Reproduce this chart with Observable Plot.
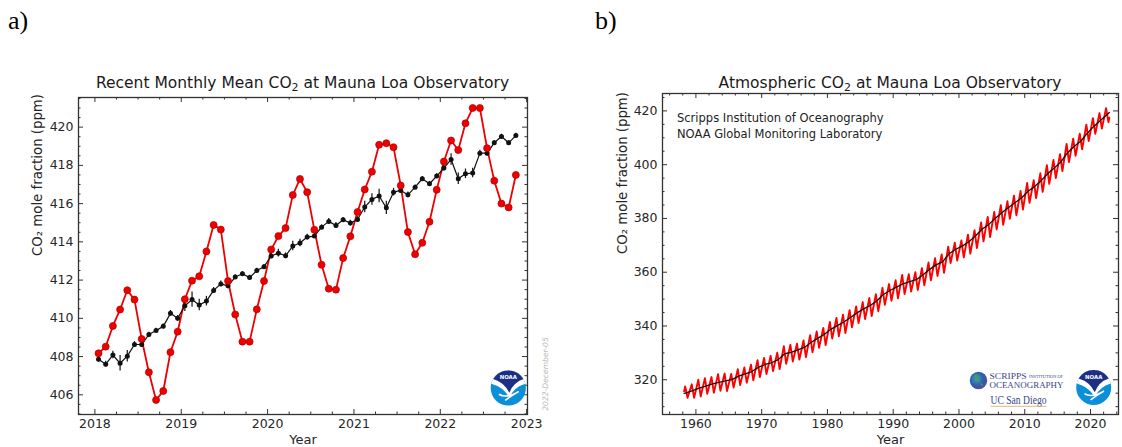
<!DOCTYPE html>
<html>
<head>
<meta charset="utf-8">
<script src="https://cdn.jsdelivr.net/npm/d3@7"></script>
<script src="https://cdn.jsdelivr.net/npm/@observablehq/plot@0.6"></script>
<style>
  html, body { margin: 0; padding: 0; background: #fff; }
  #page { position: relative; width: 1122px; height: 447px; overflow: hidden; background: #fff; }
  #chartA { position: absolute; left: 0; top: 0; }
  #chartB { position: absolute; left: 560px; top: 0; }
  #overlay { position: absolute; left: 0; top: 0; pointer-events: none; }
</style>
</head>
<body>
<div id="page">
  <div id="chartA"></div>
  <div id="chartB"></div>
  <svg id="overlay" width="1122" height="447" xmlns="http://www.w3.org/2000/svg"></svg>
</div>
<script>
// ---------------- Data: panel a) monthly, Jan 2018 – Nov 2022 ----------------
const monthlyStartYear = 2018;
const monthlyMean = [
  408.17, 408.52, 409.60, 410.46, 411.47, 410.98, 408.92, 407.18, 405.73, 406.20, 408.23, 409.30,
  411.00, 411.97, 412.20, 413.50, 414.88, 414.64, 411.95, 410.20, 408.78, 408.78, 410.47, 411.95,
  413.60, 414.30, 414.72, 416.45, 417.29, 416.60, 414.63, 412.80, 411.55, 411.50, 413.15, 414.29,
  415.56, 416.74, 417.67, 419.08, 419.16, 418.95, 416.95, 414.51, 413.35, 413.95, 415.05, 416.72,
  418.20, 419.30, 418.80, 420.20, 421.00, 421.00, 418.90, 417.20, 416.00, 415.80, 417.50
];
const deseasonalized = [
  407.86, 407.60, 408.08, 407.65, 408.02, 408.63, 408.63, 409.15, 409.36, 409.58, 410.26, 410.00,
  410.66, 410.98, 410.70, 410.90, 411.46, 411.80, 411.70, 412.16, 412.33, 412.13, 412.50, 412.70,
  413.26, 413.41, 413.27, 413.78, 413.94, 414.25, 414.30, 414.77, 415.07, 414.86, 415.16, 414.98,
  415.17, 415.82, 416.22, 416.40, 415.78, 416.60, 416.69, 416.46, 416.86, 417.30, 417.04, 417.44,
  417.86, 418.31, 417.30, 417.56, 417.60, 418.64, 418.64, 419.18, 419.51, 419.18, 419.56
];
const uncertainty = [
  0.15, 0.15, 0.20, 0.40, 0.30, 0.15, 0.15, 0.12, 0.12, 0.12, 0.15, 0.15,
  0.30, 0.40, 0.30, 0.25, 0.15, 0.15, 0.15, 0.12, 0.12, 0.12, 0.12, 0.12,
  0.15, 0.20, 0.15, 0.25, 0.20, 0.15, 0.12, 0.12, 0.15, 0.15, 0.12, 0.15,
  0.15, 0.30, 0.30, 0.35, 0.35, 0.20, 0.15, 0.15, 0.12, 0.12, 0.12, 0.12,
  0.15, 0.30, 0.30, 0.25, 0.25, 0.15, 0.15, 0.12, 0.12, 0.12, 0.12
];
const aXTicks = [2018, 2019, 2020, 2021, 2022, 2023];
const aYTicks = [406, 408, 410, 412, 414, 416, 418, 420];

// ---------------- Data: panel b) 1958 – 2022 ----------------
const firstYear = 1958;
const annualTrend = [
  315.10, 315.98, 316.91, 317.64, 318.45, 318.99, 319.62, 320.04, 321.37, 322.18,
  323.05, 324.62, 325.68, 326.32, 327.46, 329.68, 330.19, 331.12, 332.03, 333.84,
  335.41, 336.84, 338.76, 340.12, 341.48, 343.15, 344.87, 346.35, 347.61, 349.31,
  351.69, 353.20, 354.45, 355.70, 356.54, 357.21, 358.96, 360.97, 362.74, 363.88,
  366.84, 368.54, 369.71, 371.32, 373.45, 375.98, 377.70, 379.98, 382.09, 384.02,
  385.83, 387.64, 390.10, 391.85, 394.06, 396.74, 398.81, 401.01, 404.41, 406.76,
  408.72, 411.66, 414.24, 416.45, 418.56
];
const mayPeaks = [
  317.5, 318.3, 320.0, 320.6, 321.0, 322.1, 322.3, 322.2, 323.9, 324.6,
  325.6, 327.3, 328.1, 328.9, 330.1, 332.5, 333.0, 333.4, 334.6, 336.6,
  338.0, 339.3, 341.5, 343.0, 344.2, 345.9, 347.3, 348.9, 350.4, 351.8,
  354.2, 355.6, 357.0, 359.0, 359.3, 360.0, 361.5, 363.6, 365.2, 366.6,
  369.5, 371.0, 371.8, 374.0, 375.6, 378.5, 380.6, 382.4, 384.9, 386.4,
  388.5, 390.2, 393.2, 394.2, 396.8, 399.8, 401.8, 403.9, 407.7, 409.7,
  411.5, 414.9, 417.3, 419.2, 421.0
];
const autumnTroughs = [
  313.3, 313.3, 313.8, 314.8, 315.2, 315.9, 315.8, 317.1, 318.0, 318.9,
  319.8, 321.0, 322.1, 323.2, 324.0, 325.9, 326.8, 327.5, 328.4, 330.2,
  331.9, 332.9, 335.3, 336.2, 337.4, 339.5, 341.1, 342.6, 343.7, 345.5,
  347.9, 349.4, 350.3, 351.9, 352.8, 353.4, 355.1, 357.0, 358.6, 359.8,
  363.4, 364.3, 365.5, 366.9, 369.0, 371.5, 373.1, 375.9, 377.6, 379.9,
  381.2, 383.3, 385.8, 387.6, 389.9, 392.9, 395.0, 397.6, 401.0, 403.3,
  405.7, 408.8, 411.5, 413.4, 415.8
];
const seriesStart = { x: 1958.21, y: 315.7 };   // March 1958
const seriesEnd = { x: 2022.87, y: 417.5 };     // November 2022
const trendStart = { x: 1958.21, y: 314.9 };
const trendEnd = { x: 2022.87, y: 419.4 };
const bXTicks = [1960, 1970, 1980, 1990, 2000, 2010, 2020];
const bYTicks = [320, 340, 360, 380, 400, 420];

// ---------------- Build tables ----------------
const monthly = monthlyMean.map((v, i) => ({
  x: monthlyStartYear + (i + 0.5) / 12,
  mean: v,
  trend: deseasonalized[i],
  lo: deseasonalized[i] - uncertainty[i],
  hi: deseasonalized[i] + uncertainty[i]
}));

const seasonal = [seriesStart];
mayPeaks.forEach((p, i) => {
  seasonal.push({ x: firstYear + i + 0.37, y: p });
  seasonal.push({ x: firstYear + i + 0.73, y: autumnTroughs[i] });
});
seasonal.push(seriesEnd);
const trend = [trendStart, ...annualTrend.map((v, i) => ({ x: firstYear + i + 0.5, y: v })), trendEnd];

// ---------------- Helpers ----------------
const INK = "#333";
function innerTicks(xMajor, xMinor, yMajor, yMinor, W, H) {
  const maj = 5, mnr = 2.5;
  const o = { stroke: INK, strokeWidth: 1 };
  return [
    Plot.tickX(xMajor, { x: d => d, insetTop: H - maj, ...o }),
    Plot.tickX(xMajor, { x: d => d, insetBottom: H - maj, ...o }),
    Plot.tickX(xMinor, { x: d => d, insetTop: H - mnr, ...o }),
    Plot.tickX(xMinor, { x: d => d, insetBottom: H - mnr, ...o }),
    Plot.tickY(yMajor, { y: d => d, insetRight: W - maj, ...o }),
    Plot.tickY(yMajor, { y: d => d, insetLeft: W - maj, ...o }),
    Plot.tickY(yMinor, { y: d => d, insetRight: W - mnr, ...o }),
    Plot.tickY(yMinor, { y: d => d, insetLeft: W - mnr, ...o })
  ];
}
const baseStyle = { fontFamily: "DejaVu Sans, sans-serif", fontSize: "12.5px", color: "#262626", background: "transparent", overflow: "visible" };

// ---------------- Panel a ----------------
{
  const width = 560, height = 447, mL = 78, mR = 33, mT = 97, mB = 33;
  const W = width - mL - mR, H = height - mT - mB;
  const xDomain = [2017.81, 2023.01], yDomain = [404.97, 421.55];
  const xMinor = d3.range(2017.75, 2023.02, 0.25).filter(v => v >= xDomain[0] && v <= xDomain[1] && !aXTicks.includes(v));
  const yMinor = d3.range(405, 421.6, 0.5).filter(v => !aYTicks.includes(v));
  const chart = Plot.plot({
    width, height, marginLeft: mL, marginRight: mR, marginTop: mT, marginBottom: mB,
    style: baseStyle,
    x: { domain: xDomain },
    y: { domain: yDomain },
    marks: [
      Plot.line(monthly, { x: "x", y: "mean", stroke: "#ee0000", strokeWidth: 1.8 }),
      Plot.ruleX(monthly, { x: "x", y1: "lo", y2: "hi", stroke: "#111", strokeWidth: 1.2 }),
      Plot.line(monthly, { x: "x", y: "trend", stroke: "#111", strokeWidth: 1.2 }),
      Plot.dot(monthly, { x: "x", y: "trend", r: 2.5, fill: "#111", stroke: "none" }),
      Plot.dot(monthly, { x: "x", y: "mean", r: 3.5, fill: "#ee0000", stroke: "#b00000", strokeWidth: 0.7 }),
      ...innerTicks(aXTicks, xMinor, aYTicks, yMinor, W, H),
      Plot.frame({ stroke: INK, strokeWidth: 1.3 }),
      Plot.axisX(aXTicks, { anchor: "bottom", tickSize: 0, tickPadding: 5, tickFormat: d => String(d), label: null }),
      Plot.axisY(aYTicks, { anchor: "left", tickSize: 0, tickPadding: 5, tickFormat: d => String(d), label: null }),
      Plot.text(["Year"], { text: d => d, frameAnchor: "bottom", dy: 25, lineAnchor: "middle", fontSize: 13 }),
      Plot.text(["CO₂ mole fraction (ppm)"], { text: d => d, frameAnchor: "left", dx: -41, rotate: -90, lineAnchor: "middle", fontSize: 13.3 })
    ]
  });
  document.getElementById("chartA").appendChild(chart);
}

// ---------------- Panel b ----------------
{
  const width = 562, height = 447, mL = 102, mR = 4, mT = 93, mB = 33;
  const W = width - mL - mR, H = height - mT - mB;
  const xDomain = [1954.92, 2024.26], yDomain = [307.08, 426.48];
  const xMinor = d3.range(1956, 2025, 2).filter(v => !bXTicks.includes(v));
  const yMinor = d3.range(310, 426, 5).filter(v => !bYTicks.includes(v));
  const chart = Plot.plot({
    width, height, marginLeft: mL, marginRight: mR, marginTop: mT, marginBottom: mB,
    style: baseStyle,
    x: { domain: xDomain },
    y: { domain: yDomain },
    marks: [
      Plot.line(seasonal, { x: "x", y: "y", stroke: "#ff0000", strokeWidth: 1.9 }),
      Plot.line(trend, { x: "x", y: "y", stroke: "#111", strokeWidth: 1.3 }),
      ...innerTicks(bXTicks, xMinor, bYTicks, yMinor, W, H),
      Plot.frame({ stroke: INK, strokeWidth: 1.3 }),
      Plot.axisX(bXTicks, { anchor: "bottom", tickSize: 0, tickPadding: 5, tickFormat: d => String(d), label: null }),
      Plot.axisY(bYTicks, { anchor: "left", tickSize: 0, tickPadding: 5, tickFormat: d => String(d), label: null }),
      Plot.text(["Year"], { text: d => d, frameAnchor: "bottom", dy: 25, lineAnchor: "middle", fontSize: 13 }),
      Plot.text(["CO₂ mole fraction (ppm)"], { text: d => d, frameAnchor: "left", dx: -40, rotate: -90, lineAnchor: "middle", fontSize: 13.3 })
    ]
  });
  document.getElementById("chartB").appendChild(chart);
}

// ---------------- Overlay: titles, panel letters, logos ----------------
function noaaLogo(cx, cy, r) {
  const s = r / 17;
  return `<g transform="translate(${cx},${cy}) scale(${s})">
    <circle r="17" fill="#0b8fd8"/>
    <path d="M-16.5,-4 A17,17 0 0 1 16.5,-4 Q6,-1 1,9 Q-5,-1 -16.5,-4 Z" fill="#ffffff"/>
    <path d="M-14.6,-8.7 A17,17 0 0 1 14.6,-8.7 Q5,-5.5 1,4.5 Q-4,-5.5 -14.6,-8.7 Z" fill="#1d2f85"/>
    <path d="M-9,6 Q-2,10.5 10,3.5 Q2,8 -3,12" fill="none" stroke="#ffffff" stroke-width="1.6"/>
    <text x="0" y="-8.3" text-anchor="middle" font-family="DejaVu Sans" font-weight="bold" font-size="5.2" fill="#ffffff">NOAA</text>
  </g>`;
}
document.getElementById("overlay").innerHTML = `
  <defs>
    <radialGradient id="globe" cx="0.4" cy="0.4" r="0.7">
      <stop offset="0" stop-color="#3aa5c8"/>
      <stop offset="0.55" stop-color="#2c5fa8"/>
      <stop offset="1" stop-color="#6a3f9a"/>
    </radialGradient>
  </defs>
  <text x="8" y="29" font-family="Liberation Serif, serif" font-size="26" fill="#000">a)</text>
  <text x="595" y="29" font-family="Liberation Serif, serif" font-size="26" fill="#000">b)</text>
  <text x="302.5" y="88" text-anchor="middle" font-family="DejaVu Sans" font-size="15.5" fill="#1a1a1a">Recent Monthly Mean CO<tspan font-size="11" dy="3">2</tspan><tspan dy="-3"> at Mauna Loa Observatory</tspan></text>
  <text x="890" y="88" text-anchor="middle" font-family="DejaVu Sans" font-size="15.5" fill="#1a1a1a">Atmospheric CO<tspan font-size="11" dy="3">2</tspan><tspan dy="-3"> at Mauna Loa Observatory</tspan></text>
  <text x="677" y="122" font-family="DejaVu Sans" font-size="11.5" fill="#222">Scripps Institution of Oceanography</text>
  <text x="677" y="138" font-family="DejaVu Sans" font-size="11.5" fill="#222">NOAA Global Monitoring Laboratory</text>
  <text transform="translate(548,374) rotate(-90)" text-anchor="middle" font-family="DejaVu Sans" font-style="italic" font-size="7.6" fill="#b8b8b8">2022-December-05</text>
  ${noaaLogo(508.3, 388, 17.6)}
  ${noaaLogo(1093.7, 387.5, 17.5)}
  <circle cx="978.5" cy="380.5" r="8.7" fill="url(#globe)"/>
  <path d="M974,375 q3,-2 5,1 q-1,3 1,5 q-3,2 -4,-1 q-3,-2 -2,-5z M980,383 q3,0 3,3 q-2,1 -3,-3z" fill="#4d9a5a" opacity="0.8"/>
  <text x="989.5" y="378.6" font-family="Liberation Serif, serif" font-size="9" fill="#3c4688" textLength="37" lengthAdjust="spacingAndGlyphs">SCRIPPS</text>
  <text x="1029" y="377.8" font-family="Liberation Serif, serif" font-size="3.4" fill="#3c4688" textLength="34" lengthAdjust="spacingAndGlyphs">INSTITUTION OF</text>
  <text x="989.5" y="388" font-family="Liberation Serif, serif" font-size="7.6" fill="#3c4688" textLength="74" lengthAdjust="spacingAndGlyphs">OCEANOGRAPHY</text>
  <text x="990.5" y="403.5" font-family="Liberation Serif, serif" font-size="12" fill="#3c4688" textLength="56" lengthAdjust="spacingAndGlyphs">UC San Diego</text>
  <line x1="990.5" y1="406.3" x2="1046.5" y2="406.3" stroke="#d6b563" stroke-width="0.9"/>
`;
</script>
</body>
</html>
